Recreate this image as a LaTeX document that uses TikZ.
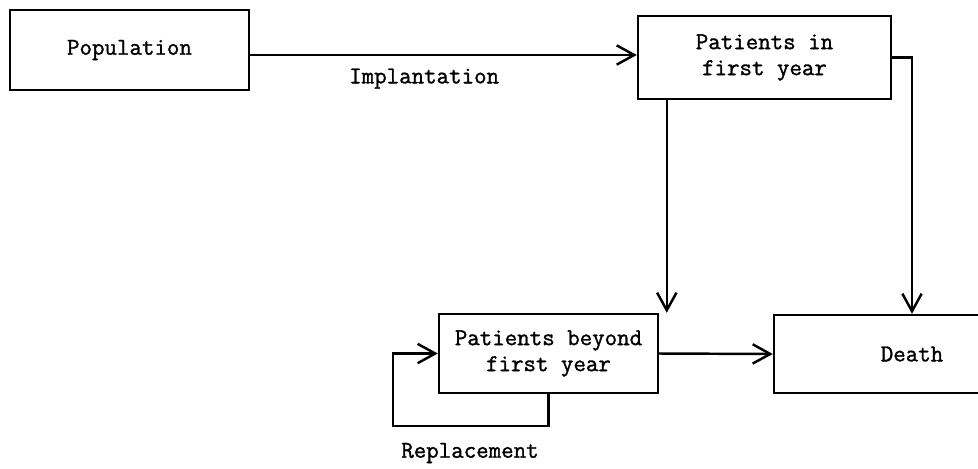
\documentclass[tikz,border=0pt]{standalone}
\usepackage{fontspec}
\newfontfamily\typefont{Latin Modern Mono}[FakeBold=1.3]
\usetikzlibrary{arrows.meta}

\tikzset{
  box/.style={draw, line width=1.4pt, align=center, inner sep=0pt},
  flow/.style={line width=1.4pt, -{Straight Barb[length=10pt,width=11pt,line width=1.4pt]}},
  lbl/.style={inner sep=1pt}
}

\begin{document}
\begin{tikzpicture}[x=0.02cm, y=-0.02cm, font=\typefont\fontsize{13.8}{14.8}\selectfont]
	\useasboundingbox (0,0) rectangle (978,468);
	% boxes
	\node[box, minimum width=4.78cm, minimum height=1.6cm] (pop) at (129.5,50) {Population};
	\node[box, minimum width=5.06cm, minimum height=1.66cm] (first) at (764.5,57.5) {Patients in\\ first year};
	\node[box, minimum width=4.38cm, minimum height=1.58cm] (beyond) at (548.5,353.5) {Patients beyond\\first year};
	\node[box, minimum width=5.52cm, minimum height=1.56cm] (death) at (912,354) {Death};
	% flows
	\draw[flow] ([yshift=-0.1cm]pop.east) -- ([yshift=-0.1cm]pop.east -| first.west)
	  node[lbl, below=6pt, pos=0.45] (impl) {Implantation};
	\draw[flow] ([xshift=0.6cm]first.south west) -- ([xshift=0.6cm]first.south west |- beyond.north);
	\draw[flow] (first.east) -| (death.north);
	\draw[flow] (beyond.east) -- (death.west);
	\draw[flow] (beyond.south) -- ++(0,32) -| ([xshift=-0.9cm]beyond.west) -- (beyond.west);
	\node[lbl] (repl) at (470,453) {Replacement};
\end{tikzpicture}
\end{document}
